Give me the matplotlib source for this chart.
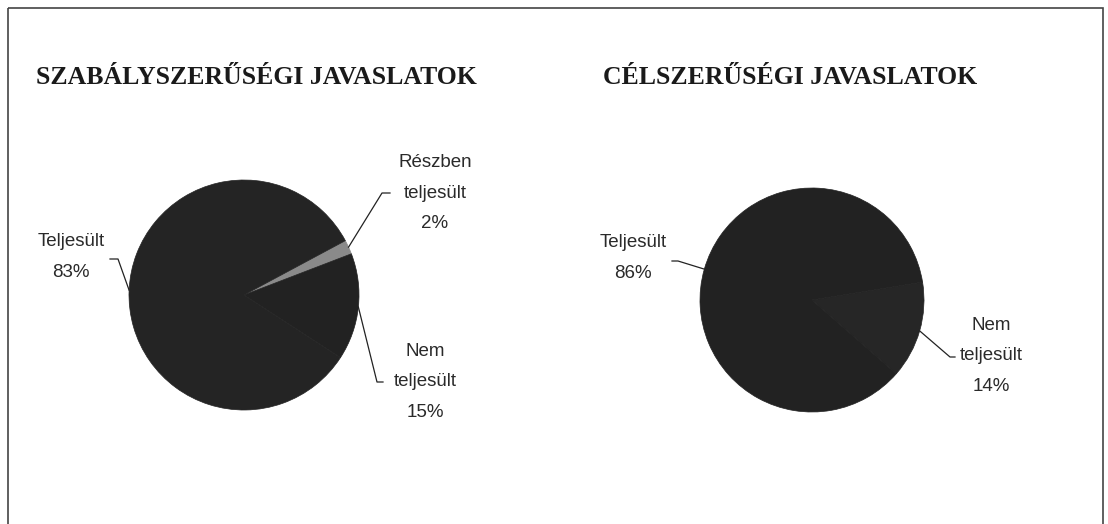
import numpy as np
import matplotlib
matplotlib.use("Agg")
import matplotlib.pyplot as plt
from matplotlib.patches import Rectangle

# ---- data ----
left_title = "SZABÁLYSZERŰSÉGI JAVASLATOK"
left_labels = ["Részben\nteljesült", "Nem\nteljesült", "Teljesült"]
left_values = [2, 15, 83]
right_title = "CÉLSZERŰSÉGI JAVASLATOK"
right_labels = ["Nem\nteljesült", "Teljesült"]
right_values = [14, 86]

W, H = 1108, 524
fig = plt.figure(figsize=(W / 100, H / 100), dpi=100)
fig.patch.set_facecolor("white")

ov = fig.add_axes([0, 0, 1, 1], zorder=5)
ov.set_xlim(0, W)
ov.set_ylim(H, 0)
ov.axis("off")
ov.patch.set_alpha(0)

# frame
ov.add_patch(Rectangle((8, 8), 1095, 530, fill=False, ec="#444444", lw=1.2))

label_font = dict(family="Liberation Sans", fontsize=13.5, color="#2a2a2a",
                  ha="center", va="center", linespacing=2.05)
title_font = dict(family="Liberation Serif", fontweight="bold", fontsize=18.5,
                  color="#1a1a1a", ha="center", va="center")


def draw_pie(cx, cy, r, values, labels, colors, start, label_pos, elbows, ticks):
    ax = fig.add_axes([(cx - r) / W, 1 - (cy + r) / H, 2 * r / W, 2 * r / H])
    wedges, _ = ax.pie(values, colors=colors, startangle=start, counterclock=False,
                       wedgeprops=dict(linewidth=0.5))
    for w in wedges:
        w.set_edgecolor(w.get_facecolor())
    ax.set_xlim(-1, 1)
    ax.set_ylim(-1, 1)
    ax.axis("off")
    for w, v, lab, lp, el, tk in zip(wedges, values, labels, label_pos, elbows, ticks):
        mid = np.deg2rad((w.theta1 + w.theta2) / 2)
        ax_x = cx + r * np.cos(mid)
        ax_y = cy - r * np.sin(mid)
        ov.plot([ax_x, el[0], tk], [ax_y, el[1], el[1]], color="#222222", lw=0.9)
        ov.text(lp[0], lp[1], f"{lab}\n{v}%", **label_font)
    return ax


draw_pie(244, 295, 115, left_values, left_labels,
         ["#8a8a8a", "#222222", "#242424"], 28.2,
         label_pos=[(435, 193), (425, 382), (71, 257)],
         elbows=[(382, 193), (377, 382), (118, 259)],
         ticks=[390, 383, 110])

draw_pie(812, 300, 112, right_values, right_labels,
         ["#262626", "#222222"], 9.2,
         label_pos=[(991, 356), (633, 258)],
         elbows=[(950, 357), (678, 261)],
         ticks=[955, 672])

ov.text(256, 78, left_title, **title_font)
ov.text(790, 78, right_title, **title_font)

fig.savefig("out.png", dpi=100, facecolor="white")
